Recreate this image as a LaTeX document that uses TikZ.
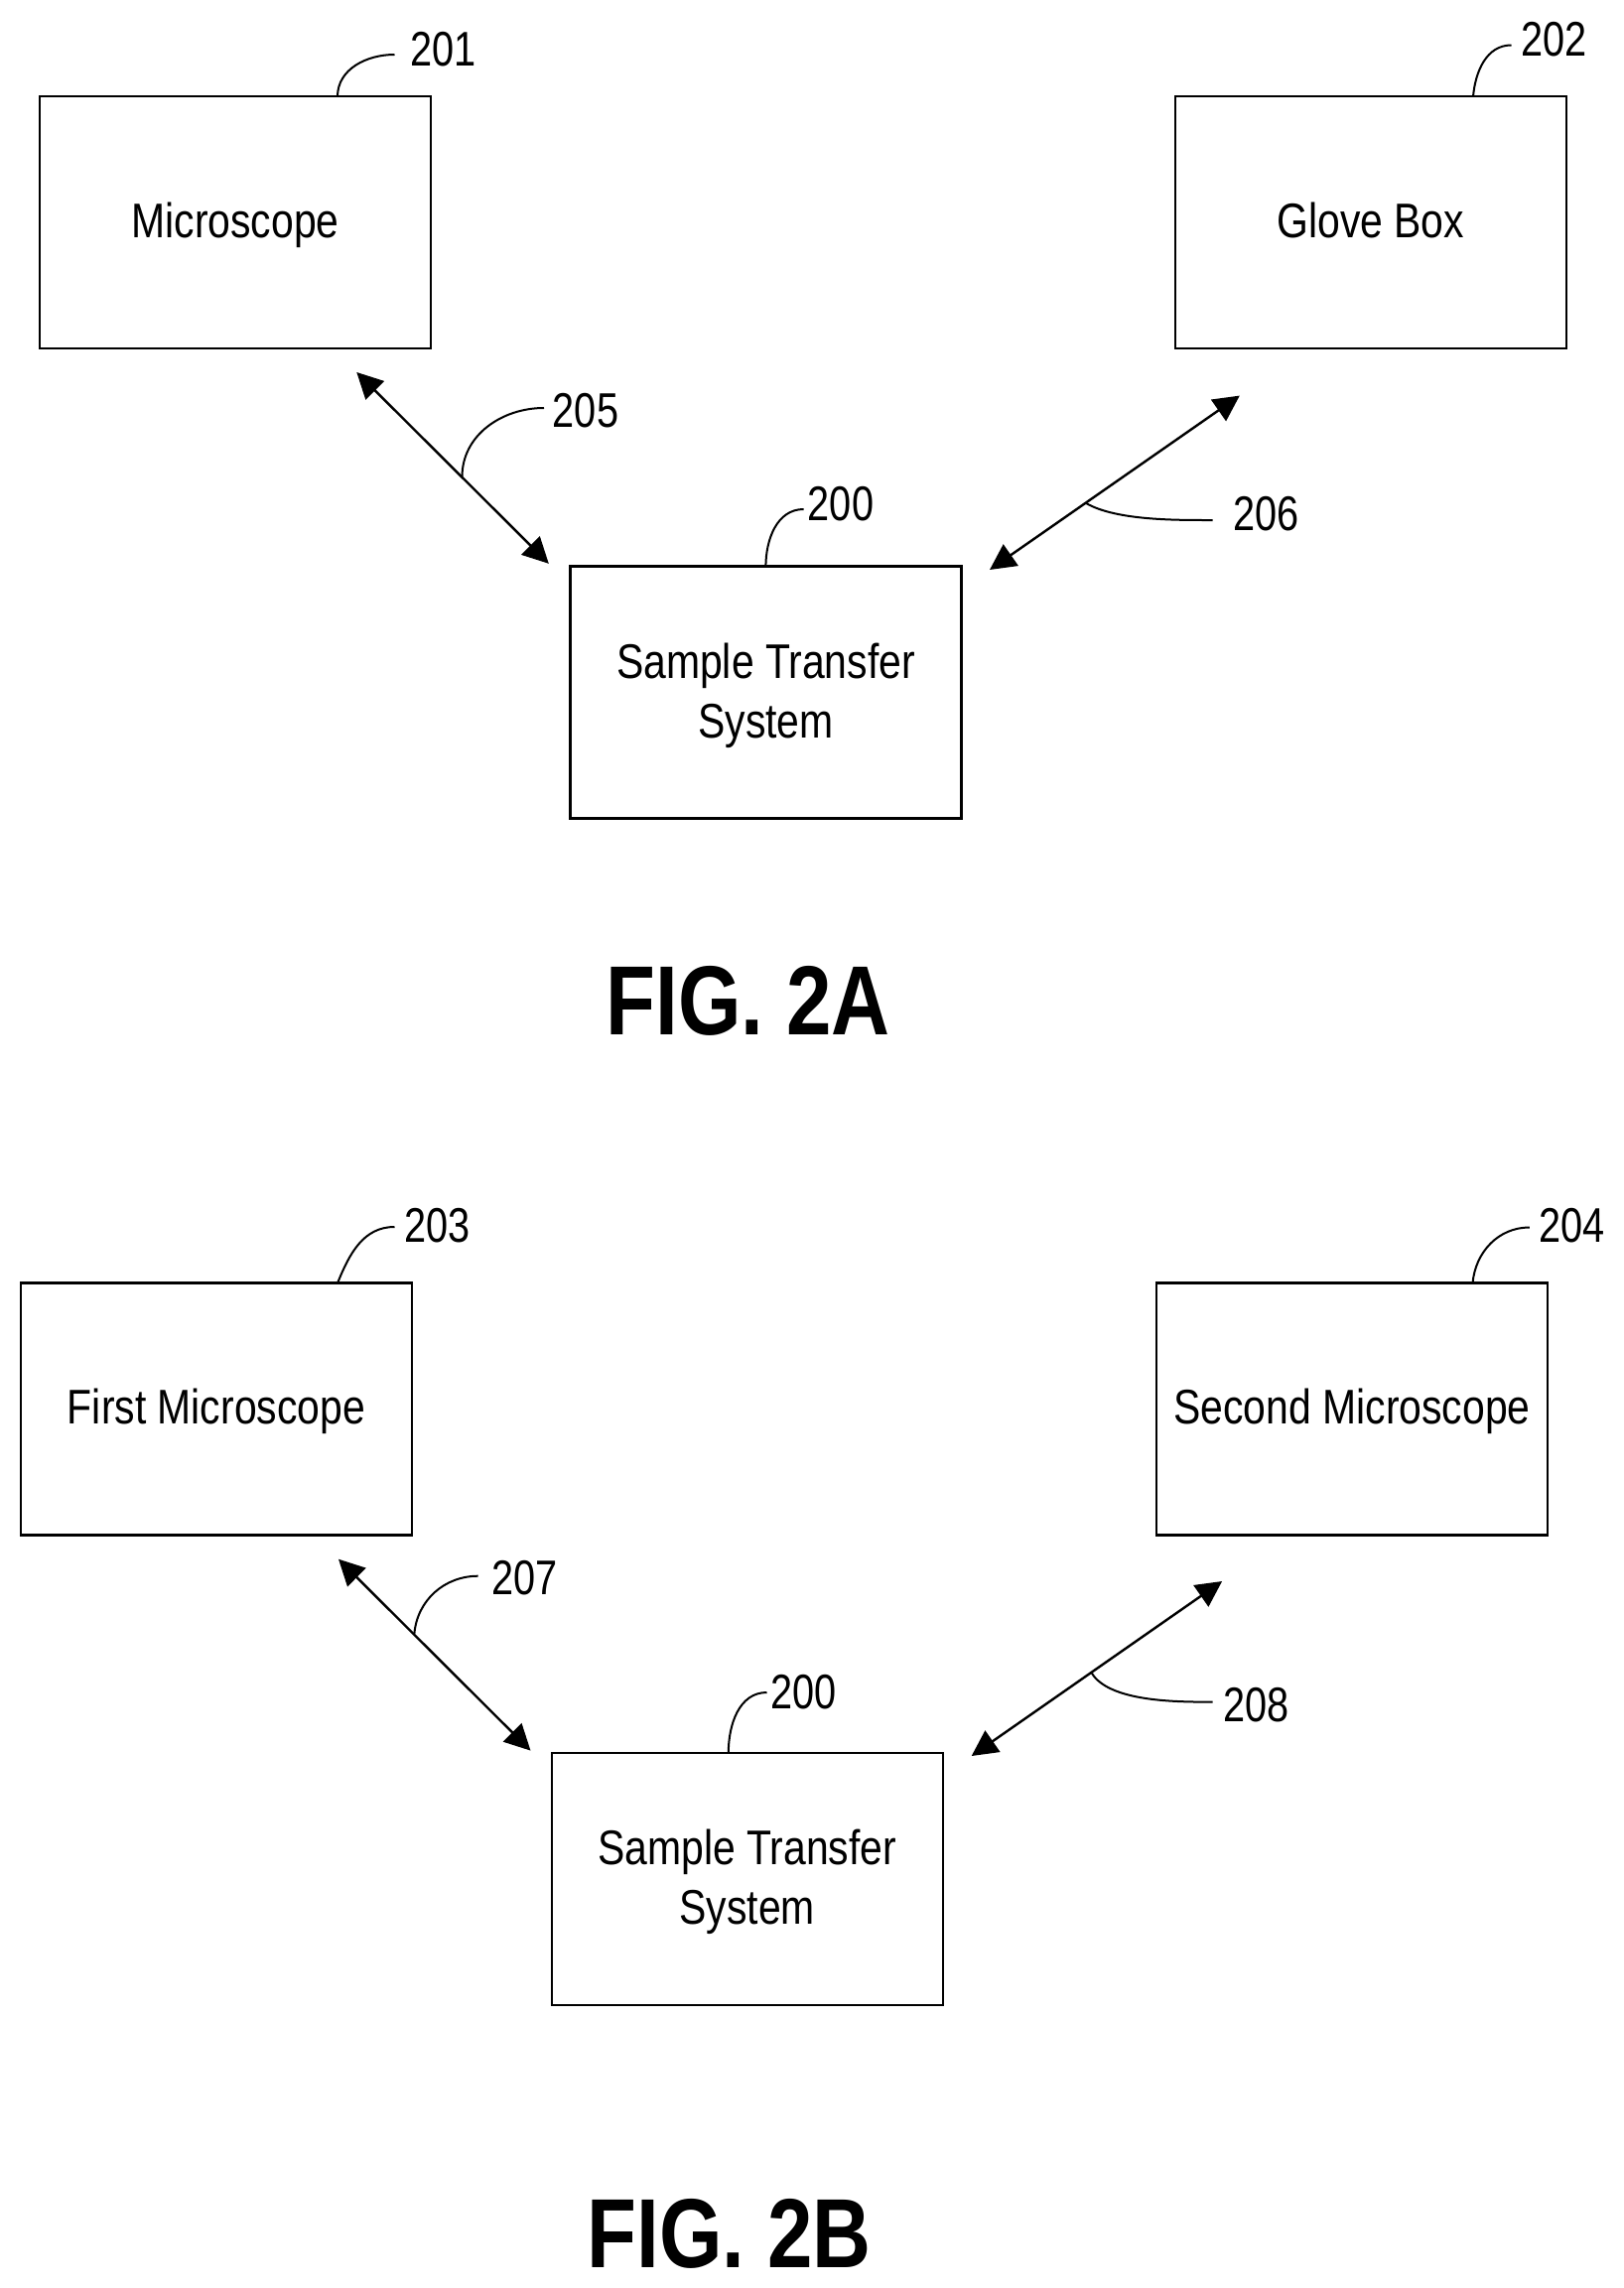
\documentclass[tikz,border=0pt]{standalone}
\usepackage{fontspec}
\setmainfont{Liberation Sans}
\newfontfamily\boxfont[FakeStretch=0.835]{Liberation Sans}
\newfontfamily\numfont[FakeStretch=0.81]{Liberation Sans}
\newfontfamily\figfont[FakeStretch=0.825]{Liberation Sans}
\usetikzlibrary{arrows.meta, positioning}

\begin{document}
\begin{tikzpicture}[
    x=0.5pt, y=-0.5pt,
    unit/.style={draw, line width=1.2pt, outer sep=0pt, inner sep=0pt, minimum width=197pt, minimum height=127pt, align=center, font=\boxfont\fontsize{24.5}{30}\selectfont},
    number/.style={inner sep=0pt, font=\numfont\fontsize{24.5}{30}\selectfont},
    figlabel/.style={inner sep=0pt, anchor=base, font=\figfont\bfseries\fontsize{49.5}{50}\selectfont},
    link/.style={{Triangle[length=13pt,width=13pt]}-{Triangle[length=13pt,width=13pt]}, line width=1.2pt},
    leader/.style={line width=1pt}
]
\path[use as bounding box] (0,0) rectangle (1636,2305);

% Fig. 2A boxes
\node[unit] (microscope) at (237,224) {\rule{0pt}{20.5pt}Microscope\rule[-5pt]{0pt}{5pt}};
\node[unit] (glovebox) at (1380.8,224) {\rule{0pt}{20.5pt}Glove Box\rule[-5pt]{0pt}{5pt}};
\node[unit] (transferA) at (771.5,697.5) {\rule{0pt}{21pt}Sample Transfer\\System};

% Fig. 2A numbers
\node[number] (n201) at (446.5,50) {201};
\node[number] (n202) at (1565.2,40) {202};
\node[number] (n205) at (590,414) {205};
\node[number] (n206) at (1275.3,518) {206};
\node[number] (n200a) at (847,507.5) {200};

% Fig. 2A link ends and leader ends
\coordinate (a205s) at (359.3,375);
\coordinate (a205e) at (552.8,567.8);
\coordinate (a206s) at (997,574);
\coordinate (a206e) at (1248.8,398.6);
\coordinate (l201a) at (340,97.3);
\coordinate (l201b) at (397.5,55);
\coordinate (l202a) at (1484,97.3);
\coordinate (l202b) at (1522.5,45.5);
\coordinate (l205a) at (465.5,480.4);
\coordinate (l205b) at (548,411);
\coordinate (l206a) at (1094.2,507);
\coordinate (l206b) at (1221.7,524);
\coordinate (l200a) at (771.4,571);
\coordinate (l200b) at (809.6,513);

% Fig. 2A flow
\draw[link] (a205s) -- (a205e);
\draw[link] (a206s) -- (a206e);
\draw[leader] (l201a) to[out=90, in=180] (l201b);
\draw[leader] (l202a) to[out=85, in=180] (l202b);
\draw[leader] (l205a) to[out=90, in=180] (l205b);
\draw[leader] (l206a) to[out=-30, in=180, looseness=0.7] (l206b);
\draw[leader] (l200a) to[out=90, in=180] (l200b);

\node[figlabel] (figA) at (753.5,1042.5) {FIG. 2A};

% Fig. 2B boxes
\node[unit] (first) at (218,1419.5) {\rule{0pt}{20.5pt}First Microscope\rule[-5pt]{0pt}{5pt}};
\node[unit] (second) at (1362,1419.5) {\rule{0pt}{20.5pt}Second Microscope\rule[-5pt]{0pt}{5pt}};
\node[unit] (transferB) at (752.7,1892.8) {\rule{0pt}{21pt}Sample Transfer\\System};

% Fig. 2B numbers
\node[number] (n203) at (440.5,1234.6) {203};
\node[number] (n204) at (1583.4,1234.6) {204};
\node[number] (n207) at (528.5,1589.5) {207};
\node[number] (n208) at (1265.5,1717.8) {208};
\node[number] (n200b) at (809.5,1704.5) {200};

% Fig. 2B link ends and leader ends
\coordinate (a207s) at (341,1570.7);
\coordinate (a207e) at (534.5,1763.6);
\coordinate (a208s) at (978.7,1769);
\coordinate (a208e) at (1231.1,1593);
\coordinate (l203a) at (340,1292.7);
\coordinate (l203b) at (397.5,1236);
\coordinate (l204a) at (1483.5,1292.7);
\coordinate (l204b) at (1540.8,1236.5);
\coordinate (l207a) at (417.4,1645.8);
\coordinate (l207b) at (481.7,1587.7);
\coordinate (l208a) at (1099.5,1685);
\coordinate (l208b) at (1221.7,1714.6);
\coordinate (l200c) at (733.8,1766);
\coordinate (l200d) at (772.5,1705);

% Fig. 2B flow
\draw[link] (a207s) -- (a207e);
\draw[link] (a208s) -- (a208e);
\draw[leader] (l203a) to[out=68, in=180] (l203b);
\draw[leader] (l204a) to[out=85, in=180] (l204b);
\draw[leader] (l207a) to[out=85, in=180] (l207b);
\draw[leader] (l208a) to[out=-60, in=180, looseness=0.7] (l208b);
\draw[leader] (l200c) to[out=90, in=180] (l200d);

\node[figlabel] (figB) at (734.5,2284) {FIG. 2B};

\end{tikzpicture}
\end{document}
